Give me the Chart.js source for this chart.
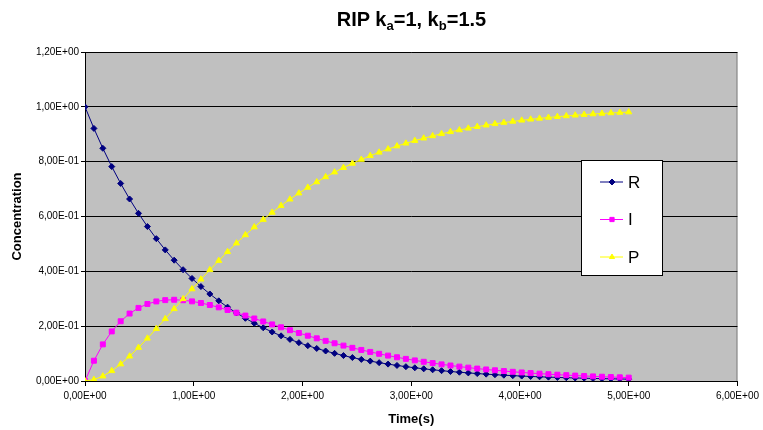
<!DOCTYPE html>
<html>
<head>
<meta charset="utf-8">
<script src="https://cdn.jsdelivr.net/npm/chart.js@4.4.1/dist/chart.umd.min.js"></script>
<style>
  body { margin: 0; background: #fff; }
  #wrap { position: relative; width: 763px; height: 430px; }
  #title {
    position: absolute; left: 85px; width: 653px; top: 8px;
    text-align: center; font: bold 20px Arial, "Liberation Sans", sans-serif; color: #000;
  }
  #title sub { font-size: 13px; vertical-align: -4px; line-height: 0; }
</style>
</head>
<body>
<div id="wrap">
  <canvas id="chart1" width="763" height="430"></canvas>
  <div id="title">RIP k<sub>a</sub>=1, k<sub>b</sub>=1.5</div>
</div>
<script>
// time points (s)
const time = [0, 0.082, 0.164, 0.246, 0.328, 0.410, 0.492, 0.574, 0.656, 0.738,
  0.820, 0.902, 0.984, 1.066, 1.148, 1.230, 1.311, 1.393, 1.475, 1.557,
  1.639, 1.721, 1.803, 1.885, 1.967, 2.049, 2.131, 2.213, 2.295, 2.377,
  2.459, 2.541, 2.623, 2.705, 2.787, 2.869, 2.951, 3.033, 3.115, 3.197,
  3.279, 3.361, 3.443, 3.525, 3.607, 3.689, 3.770, 3.852, 3.934, 4.016,
  4.098, 4.180, 4.262, 4.344, 4.426, 4.508, 4.590, 4.672, 4.754, 4.836,
  4.918, 5.000];

const seriesR = [1.000, 0.9213, 0.8488, 0.7820, 0.7205, 0.6638, 0.6115, 0.5634, 0.5191, 0.4782,
  0.4406, 0.4059, 0.3740, 0.3445, 0.3174, 0.2924, 0.2694, 0.2482, 0.2287, 0.2107,
  0.1941, 0.1788, 0.1648, 0.1518, 0.1398, 0.1288, 0.1187, 0.1094, 0.1008, 0.0928,
  0.0855, 0.0788, 0.0726, 0.0669, 0.0616, 0.0568, 0.0523, 0.0482, 0.0444, 0.0409,
  0.0377, 0.0347, 0.0320, 0.0295, 0.0271, 0.0250, 0.0230, 0.0212, 0.0196, 0.0180,
  0.0166, 0.0153, 0.0141, 0.0130, 0.0120, 0.0110, 0.0102, 0.0094, 0.0086, 0.0079,
  0.0073, 0.0067];

const seriesI = [0, 0.0740, 0.1336, 0.1809, 0.2179, 0.2460, 0.2666, 0.2810, 0.2902, 0.2950,
  0.2963, 0.2946, 0.2905, 0.2846, 0.2772, 0.2686, 0.2591, 0.2491, 0.2386, 0.2280,
  0.2172, 0.2064, 0.1958, 0.1853, 0.1751, 0.1652, 0.1556, 0.1464, 0.1375, 0.1291,
  0.1210, 0.1133, 0.1061, 0.0992, 0.0926, 0.0865, 0.0807, 0.0752, 0.0701, 0.0653,
  0.0607, 0.0565, 0.0525, 0.0488, 0.0453, 0.0421, 0.0391, 0.0363, 0.0336, 0.0312,
  0.0289, 0.0268, 0.0248, 0.0230, 0.0213, 0.0197, 0.0183, 0.0169, 0.0156, 0.0145,
  0.0134, 0.0124];

const seriesP = [0, 0.0047, 0.0176, 0.0371, 0.0617, 0.0903, 0.1219, 0.1556, 0.1908, 0.2268,
  0.2632, 0.2995, 0.3355, 0.3709, 0.4054, 0.4390, 0.4714, 0.5027, 0.5327, 0.5614,
  0.5887, 0.6148, 0.6395, 0.6629, 0.6851, 0.7060, 0.7257, 0.7443, 0.7617, 0.7781,
  0.7935, 0.8079, 0.8214, 0.8340, 0.8458, 0.8568, 0.8670, 0.8766, 0.8855, 0.8939,
  0.9016, 0.9088, 0.9155, 0.9217, 0.9275, 0.9329, 0.9379, 0.9425, 0.9468, 0.9508,
  0.9545, 0.9579, 0.9611, 0.9640, 0.9667, 0.9693, 0.9716, 0.9738, 0.9758, 0.9776,
  0.9793, 0.9809];

const seriesNames = ['R', 'I', 'P'];

// Excel style 1,00E+00 labels
function sci(v) {
    if (Math.abs(v) < 1e-12) return '0,00E+00';
    const e = Math.floor(Math.log10(Math.abs(v)) + 1e-9);
    const m = v / Math.pow(10, e);
    const sign = e < 0 ? '-' : '+';
    return m.toFixed(2).replace('.', ',') + 'E' + sign + String(Math.abs(e)).padStart(2, '0');
}

function pts(ys) {
    return time.map((t, i) => ({ x: t, y: ys[i] }));
}

// gray plot area with border
const plotBg = {
    id: 'plotBg',
    beforeDraw(chart) {
        const { ctx, chartArea: a } = chart;
        ctx.save();
        ctx.fillStyle = '#c0c0c0';
        ctx.fillRect(a.left, a.top, a.right - a.left, a.bottom - a.top);
        ctx.strokeStyle = '#808080';
        ctx.lineWidth = 1;
        ctx.strokeRect(a.left + 0.5, a.top + 0.5, a.right - a.left - 1, a.bottom - a.top);
        ctx.restore();
    }
};

// legend box inside the plot
const boxLegend = {
    id: 'boxLegend',
    afterDraw(chart) {
        const ctx = chart.ctx;
        const bx = 581, by = 160, bw = 82, bh = 116;
        ctx.save();
        ctx.fillStyle = '#fff';
        ctx.fillRect(bx, by, bw, bh);
        ctx.strokeStyle = '#000';
        ctx.lineWidth = 1;
        ctx.strokeRect(bx + 0.5, by + 0.5, bw - 1, bh - 1);
        chart.data.datasets.forEach((ds, i) => {
            const y = by + 22 + i * 37.5;
            ctx.strokeStyle = ds.borderColor;
            ctx.beginPath();
            ctx.moveTo(bx + 19, y);
            ctx.lineTo(bx + 42, y);
            ctx.stroke();
            ctx.fillStyle = ds.borderColor;
            Chart.helpers.drawPoint(ctx, { pointStyle: ds.pointStyle, radius: 3, rotation: 0, borderWidth: 1 }, bx + 31, y);
            ctx.fillStyle = '#000';
            ctx.font = '17px Arial, "Liberation Sans", sans-serif';
            ctx.textBaseline = 'middle';
            ctx.fillText(ds.label, bx + 47, y + 1);
        });
        ctx.restore();
    }
};

const data = {
    datasets: [{
        label: seriesNames[0],
        data: pts(seriesR),
        borderColor: '#000080',
        backgroundColor: '#000080',
        pointStyle: 'rectRot',
        pointRadius: 3,
        order: 3
    }, {
        label: seriesNames[1],
        data: pts(seriesI),
        borderColor: '#ff00ff',
        backgroundColor: '#ff00ff',
        pointStyle: 'rect',
        pointRadius: 3.5,
        order: 2
    }, {
        label: seriesNames[2],
        data: pts(seriesP),
        borderColor: '#ffff00',
        backgroundColor: '#ffff00',
        pointStyle: 'triangle',
        pointRadius: 3.5,
        order: 1
    }]
};
data.datasets.forEach(ds => {
    ds.borderWidth = 1;
    ds.pointBorderWidth = 1;
    ds.tension = 0;
});

const font10 = { family: 'Arial, "Liberation Sans", sans-serif', size: 10 };

new Chart(document.getElementById('chart1'), {
    type: 'line',
    data: data,
    plugins: [plotBg, boxLegend],
    options: {
        responsive: false,
        animation: false,
        devicePixelRatio: 1,
        layout: { padding: { left: 0, right: 25, top: 52, bottom: 0 } },
        plugins: { legend: { display: false }, title: { display: false }, tooltip: { enabled: false } },
        scales: {
            x: {
                type: 'linear',
                min: 0, max: 6,
                afterFit(s) { s.height = 49; },
                ticks: { stepSize: 1, callback: v => sci(v), color: '#000', font: font10, padding: 4, maxRotation: 0 },
                grid: { drawOnChartArea: false, color: '#000', tickLength: 5 },
                border: { color: '#000' },
                title: { display: true, text: 'Time(s)', color: '#000', padding: { top: 0, bottom: 3 },
                    font: { family: 'Arial, "Liberation Sans", sans-serif', size: 13, weight: 'bold' } }
            },
            y: {
                min: 0, max: 1.2,
                afterFit(s) { s.width = 85; },
                ticks: { stepSize: 0.2, callback: v => sci(v), color: '#000', font: font10, padding: 2 },
                grid: { color: '#000', tickLength: 4 },
                border: { color: '#000' },
                title: { display: true, text: 'Concentration', color: '#000', padding: { top: 10, bottom: 0 },
                    font: { family: 'Arial, "Liberation Sans", sans-serif', size: 13, weight: 'bold' } }
            }
        }
    }
});
</script>
</body>
</html>
